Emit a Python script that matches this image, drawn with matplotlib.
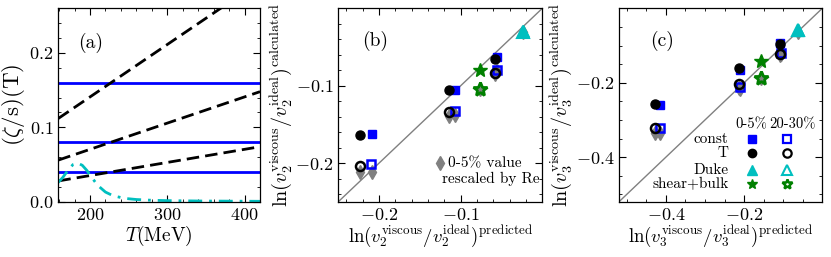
import matplotlib
matplotlib.use("Agg")
import matplotlib.pyplot as plt
from matplotlib.ticker import MultipleLocator

plt.rcParams['font.family'] = 'serif'
plt.rcParams['font.serif'] = ['cmr10', 'DejaVu Serif']
plt.rcParams['mathtext.fontset'] = 'cm'
plt.rcParams['axes.formatter.use_mathtext'] = True
plt.rcParams['axes.unicode_minus'] = True

# ---------------- panel (a) data ----------------
T_lin = [159, 420]
eta_T_high = [0.112, 0.296]
eta_T_mid = [0.056, 0.148]
eta_T_low = [0.028, 0.074]
eta_const = [0.16, 0.08, 0.04]
T_duke = [159, 165, 172, 178, 184, 190, 196, 202, 210, 220, 230, 245, 260, 280, 300, 340, 380, 420]
eta_duke = [0.026, 0.033, 0.043, 0.050, 0.052, 0.049, 0.042, 0.033, 0.022, 0.013,
            0.008, 0.0045, 0.003, 0.002, 0.0015, 0.001, 0.0008, 0.0006]

# ---------------- panel (b) data (v2) ----------------
b_const05_x = [-0.209, -0.107, -0.055]
b_const05_y = [-0.163, -0.106, -0.063]
b_T05_x = [-0.224, -0.114, -0.058]
b_T05_y = [-0.164, -0.106, -0.065]
b_const2030_x = [-0.210, -0.107, -0.055]
b_const2030_y = [-0.201, -0.133, -0.080]
b_T2030_x = [-0.224, -0.114, -0.058]
b_T2030_y = [-0.204, -0.134, -0.084]
b_duke05 = (-0.024, -0.029)
b_duke2030 = (-0.024, -0.030)
b_sb05 = (-0.0764, -0.080)
b_sb2030 = (-0.0764, -0.104)
b_resc_x = [-0.224, -0.209, -0.114, -0.107, -0.058, -0.055, -0.024, -0.0764]
b_resc_y = [-0.212, -0.211, -0.139, -0.138, -0.085, -0.081, -0.031, -0.104]

# ---------------- panel (c) data (v3) ----------------
c_const05_x = [-0.415, -0.210, -0.107]
c_const05_y = [-0.260, -0.166, -0.093]
c_T05_x = [-0.428, -0.214, -0.109]
c_T05_y = [-0.257, -0.160, -0.095]
c_const2030_x = [-0.415, -0.210, -0.106]
c_const2030_y = [-0.322, -0.211, -0.120]
c_T2030_x = [-0.428, -0.214, -0.109]
c_T2030_y = [-0.322, -0.204, -0.123]
c_duke05 = (-0.063, -0.058)
c_duke2030 = (-0.063, -0.059)
c_sb05 = (-0.156, -0.141)
c_sb2030 = (-0.156, -0.188)
c_resc_x = [-0.428, -0.415, -0.214, -0.210, -0.109, -0.106, -0.063, -0.156]
c_resc_y = [-0.336, -0.335, -0.213, -0.218, -0.125, -0.122, -0.064, -0.188]

BLUE = '#0000ff'
CYAN = '#00bfbf'
GREEN = '#008000'
GRAY = '#808080'

fig = plt.figure(figsize=(8.31, 2.57), dpi=100)
axa = fig.add_axes([0.0702, 0.215, 0.2427, 0.7525])
axb = fig.add_axes([0.4071, 0.215, 0.2455, 0.7525])
axc = fig.add_axes([0.7449, 0.215, 0.2446, 0.7525])

FS = 13
XFS = 13.5
YFS = 14.5
LFS = 11

def style(ax):
    ax.tick_params(which='both', direction='in', top=True, right=True, labelsize=FS)
    ax.tick_params(which='major', length=5, width=0.8)
    ax.tick_params(which='minor', length=2.5, width=0.6)
    for s in ax.spines.values():
        s.set_linewidth(0.9)

# ---- (a)
for y in eta_const:
    axa.plot(T_lin, [y, y], color=BLUE, lw=2)
for ys in (eta_T_high, eta_T_mid, eta_T_low):
    axa.plot(T_lin, ys, color='k', lw=2, ls=(0, (4.5, 2.2)))
axa.plot(T_duke, eta_duke, color=CYAN, lw=2, ls=(0, (5, 2.5, 1, 2.5)))
axa.set_xlim(159, 420)
axa.set_ylim(0, 0.26)
axa.set_xticks([200, 300, 400])
axa.set_yticks([0.0, 0.1, 0.2])
axa.xaxis.set_minor_locator(MultipleLocator(20))
axa.yaxis.set_minor_locator(MultipleLocator(0.02))
axa.set_xlabel(r'$T(\rm MeV)$', fontsize=14, labelpad=1)
axa.set_ylabel(r'$(\zeta/{\rm s})({\rm T})$', fontsize=16.5, labelpad=0)
axa.yaxis.set_label_coords(-0.155, 0.5)
axa.text(0.16, 0.82, '(a)', transform=axa.transAxes, fontsize=FS + 1, ha='center', va='center')
style(axa)

# ---- scatter panels
def scatter_panel(ax, cx05, cy05, tx05, ty05, cx23, cy23, tx23, ty23,
                  d05, d23, s05, s23, rx, ry):
    ax.plot([-1, 1], [-1, 1], color=GRAY, lw=1, zorder=1)
    ax.plot(rx, ry, ls='none', marker='d', ms=7, color=GRAY, mec=GRAY, zorder=2)
    ax.plot(cx05, cy05, ls='none', marker='s', ms=6, color=BLUE, zorder=3)
    ax.plot(tx05, ty05, ls='none', marker='o', ms=6.5, color='k', zorder=4)
    ax.plot(cx23, cy23, ls='none', marker='s', ms=6, mfc='none', mec=BLUE, mew=1.8, zorder=3)
    ax.plot(tx23, ty23, ls='none', marker='o', ms=6.5, mfc='none', mec='k', mew=1.8, zorder=4)
    ax.plot([d05[0]], [d05[1]], ls='none', marker='^', ms=9, color=CYAN, zorder=3)
    ax.plot([d23[0]], [d23[1]], ls='none', marker='^', ms=9, mfc='none', mec=CYAN, mew=1.5, zorder=3)
    ax.plot([s05[0]], [s05[1]], ls='none', marker='*', ms=10, color=GREEN, zorder=3)
    ax.plot([s23[0]], [s23[1]], ls='none', marker='*', ms=10, mfc='none', mec=GREEN, mew=2, zorder=3)

scatter_panel(axb, b_const05_x, b_const05_y, b_T05_x, b_T05_y,
              b_const2030_x, b_const2030_y, b_T2030_x, b_T2030_y,
              b_duke05, b_duke2030, b_sb05, b_sb2030, b_resc_x, b_resc_y)
axb.set_xlim(-0.25, 0)
axb.set_ylim(-0.25, 0)
axb.set_xticks([-0.2, -0.1])
axb.set_yticks([-0.2, -0.1])
axb.xaxis.set_minor_locator(MultipleLocator(0.02))
axb.yaxis.set_minor_locator(MultipleLocator(0.02))
axb.set_xlabel(r'$\ln(v_2^{\rm viscous}/v_2^{\rm ideal})^{\rm predicted}$', fontsize=XFS, labelpad=1)
axb.set_ylabel(r'$\ln(v_2^{\rm viscous}/v_2^{\rm ideal})^{\rm calculated}$', fontsize=YFS, labelpad=1)
axb.text(0.18, 0.83, '(b)', transform=axb.transAxes, fontsize=FS + 1, ha='center', va='center')
axb.plot([0.4985], [0.199], transform=axb.transAxes, marker='d', ms=7, color=GRAY, ls='none')
axb.text(0.538, 0.199, '0-5% value', transform=axb.transAxes, fontsize=LFS, ha='left', va='center')
axb.text(0.985, 0.117, 'rescaled by Re', transform=axb.transAxes, fontsize=LFS, ha='right', va='center')
style(axb)

scatter_panel(axc, c_const05_x, c_const05_y, c_T05_x, c_T05_y,
              c_const2030_x, c_const2030_y, c_T2030_x, c_T2030_y,
              c_duke05, c_duke2030, c_sb05, c_sb2030, c_resc_x, c_resc_y)
axc.set_xlim(-0.52, 0)
axc.set_ylim(-0.52, 0)
axc.set_xticks([-0.4, -0.2])
axc.set_yticks([-0.4, -0.2])
axc.xaxis.set_minor_locator(MultipleLocator(0.05))
axc.yaxis.set_minor_locator(MultipleLocator(0.05))
axc.set_xlabel(r'$\ln(v_3^{\rm viscous}/v_3^{\rm ideal})^{\rm predicted}$', fontsize=XFS, labelpad=1)
axc.set_ylabel(r'$\ln(v_3^{\rm viscous}/v_3^{\rm ideal})^{\rm calculated}$', fontsize=YFS, labelpad=1)
axc.text(0.21, 0.83, '(c)', transform=axc.transAxes, fontsize=FS + 1, ha='center', va='center')
style(axc)

# manual legend in (c)
tr = axc.transAxes
axc.text(0.650, 0.402, '0-5%', transform=tr, fontsize=10.5, ha='center', va='center')
axc.text(0.855, 0.402, '20-30%', transform=tr, fontsize=10.5, ha='center', va='center')
leg_rows = [
    ('const', dict(marker='s', ms=5.5, color=BLUE), dict(marker='s', ms=5.5, mfc='none', mec=BLUE, mew=1.6)),
    ('T', dict(marker='o', ms=6, color='k'), dict(marker='o', ms=6, mfc='none', mec='k', mew=1.6)),
    ('Duke', dict(marker='^', ms=7, color=CYAN), dict(marker='^', ms=7, mfc='none', mec=CYAN, mew=1.5)),
    ('shear+bulk', dict(marker='*', ms=7, color=GREEN), dict(marker='*', ms=7, mfc='none', mec=GREEN, mew=1.8)),
]
row_y = [0.323, 0.250, 0.164, 0.091]
for (lab, k1, k2), yy in zip(leg_rows, row_y):
    axc.text(0.538, yy, lab, transform=tr, fontsize=LFS, ha='right', va='center')
    axc.plot([0.653], [yy], transform=tr, ls='none', **k1)
    axc.plot([0.825], [yy], transform=tr, ls='none', **k2)

fig.savefig('out.png', dpi=100)
